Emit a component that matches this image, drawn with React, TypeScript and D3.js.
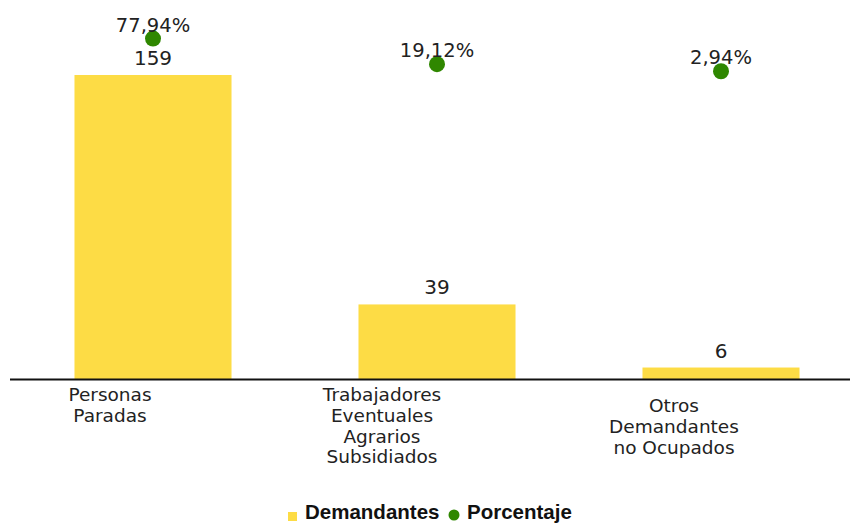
import React from "react";
import * as d3 from "d3";

const categories = [
  ["Personas", "Paradas"],
  ["Trabajadores", "Eventuales", "Agrarios", "Subsidiados"],
  ["Otros", "Demandantes", "no Ocupados"],
];
const demandantes = [159, 39, 6];
const porcentaje = [77.94, 19.12, 2.94];
const pctLabels = ["77,94%", "19,12%", "2,94%"];

const W = 850;
const H = 523;
const labelShift = [-43, -55, -47];

export default function App() {
  const x = d3
    .scaleBand<number>()
    .domain(d3.range(categories.length))
    .range([11, 863])
    .paddingInner(0.44)
    .paddingOuter(0.22);
  const baseY = 379;
  const y = d3.scaleLinear().domain([0, 159]).range([baseY, 75]);
  const yp = d3.scaleLinear().domain([0, 100]).range([72.5, 29]);
  const font = "'DejaVu Sans', Verdana, sans-serif";
  return (
    <svg
      width={W}
      height={H}
      style={{ position: "absolute", left: 0, top: 0 }}
      fontFamily={font}
    >
      <rect width={W} height={H} fill="#fff" />
      {demandantes.map((v, i) => {
        const bx = x(i)!;
        const bw = x.bandwidth();
        return (
          <g key={i}>
            <rect x={bx + 1} y={y(v)} width={bw - 2} height={baseY - y(v)} fill="#FDDC45" />
            <text
              x={bx + bw / 2}
              y={y(v) - 10}
              textAnchor="middle"
              fontSize={20}
              fill="#222"
            >
              {v}
            </text>
          </g>
        );
      })}
      <line x1={10} x2={850} y1={baseY + 0.5} y2={baseY + 0.5} stroke="#111" strokeWidth={2} />
      {porcentaje.map((p, i) => {
        const cx = x(i)! + x.bandwidth() / 2;
        return (
          <g key={i}>
            <circle cx={cx} cy={yp(p)} r={8} fill="#2F8700" />
            <text x={cx} y={yp(p) - 7} textAnchor="middle" fontSize={19.5} fill="#222">
              {pctLabels[i]}
            </text>
          </g>
        );
      })}
      {categories.map((lines, i) => {
        const cx = x(i)! + x.bandwidth() / 2 + labelShift[i];
        const startY = i === 2 ? 412 : 401;
        return (
          <text key={i} textAnchor="middle" fontSize={18.5} fill="#222">
            {lines.map((l, j) => (
              <tspan key={j} x={cx} y={startY + j * 20.8}>
                {l}
              </tspan>
            ))}
          </text>
        );
      })}
      <g fontFamily="'Liberation Sans', Arial, sans-serif" fontWeight="bold" fontSize={20.5} fill="#111">
        <rect x={288} y={512} width={9} height={9} fill="#FDDC45" />
        <text x={305} y={519}>Demandantes</text>
        <circle cx={454} cy={515} r={5.5} fill="#2F8700" />
        <text x={467} y={519}>Porcentaje</text>
      </g>
    </svg>
  );
}
